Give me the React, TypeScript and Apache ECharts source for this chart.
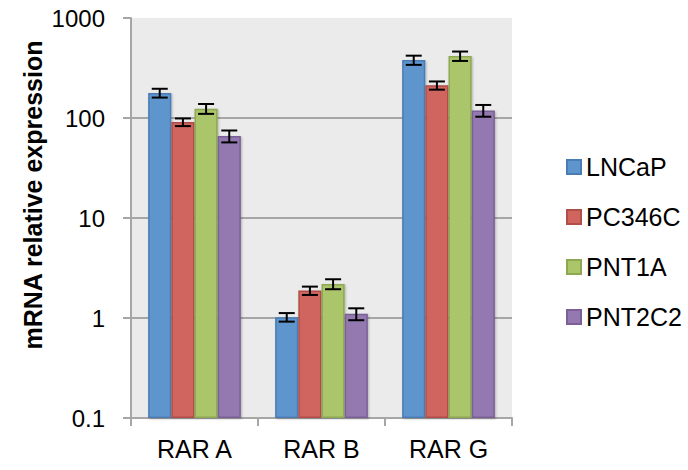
import React, { useEffect, useRef } from "react";
import * as echarts from "echarts";

// Relative mRNA expression of retinoic acid receptors per cell line
const categories = ["RAR A", "RAR B", "RAR G"];
const cellLines = ["LNCaP", "PC346C", "PNT1A", "PNT2C2"];

const lncap = [178, 1.02, 380];
const pc346c = [91, 1.88, 212];
const pnt1a = [124, 2.19, 417];
const pnt2c2 = [66, 1.1, 119];

const lncapErr = [18, 0.1, 40];
const pc346cErr = [8, 0.18, 20];
const pnt1aErr = [14, 0.25, 45];
const pnt2c2Err = [9, 0.15, 16];

const yTicks = [0.1, 1, 10, 100, 1000];

const values = [lncap, pc346c, pnt1a, pnt2c2];
const errors = [lncapErr, pc346cErr, pnt1aErr, pnt2c2Err];
const fills = ["#5E95CD", "#D0655F", "#ABC56B", "#9479B1"];
const borders = ["#4A7DB4", "#B04E49", "#8EA852", "#7A6096"];

const FONT = "'Liberation Sans', Arial, sans-serif";
const CATEGORY_GAP = 0.27;

export default function App() {
  const ref = useRef<HTMLDivElement>(null);

  useEffect(() => {
    if (!ref.current) return;
    document.body.style.margin = "0";
    const chart = echarts.init(ref.current, undefined, { renderer: "svg" });

    const barSeries = cellLines.map((name, i) => ({
      name,
      type: "bar",
      data: values[i],
      barGap: "0%",
      barCategoryGap: `${CATEGORY_GAP * 100}%`,
      itemStyle: {
        color: fills[i],
        borderColor: borders[i],
        borderWidth: 1.5,
        shadowColor: "rgba(0,0,0,0.25)",
        shadowBlur: 2,
        shadowOffsetX: 1,
        shadowOffsetY: 1,
      },
      z: 2,
    }));

    const errorSeries = cellLines.map((name, i) => ({
      name: name + " error",
      type: "custom",
      z: 5,
      silent: true,
      data: values[i].map((v, c) => [c, v - errors[i][c], v + errors[i][c]]),
      renderItem: (params: any, api: any) => {
        const c = api.value(0);
        const lo = api.coord([c, api.value(1)]);
        const hi = api.coord([c, api.value(2)]);
        const catWidth = api.size([1, 0])[0];
        const barW = (catWidth * (1 - CATEGORY_GAP)) / cellLines.length;
        const x = lo[0] + (i - (cellLines.length - 1) / 2) * barW;
        const half = 8;
        const style = { stroke: "#000", lineWidth: 2 };
        return {
          type: "group",
          children: [
            { type: "line", shape: { x1: x, y1: lo[1], x2: x, y2: hi[1] }, style },
            { type: "line", shape: { x1: x - half, y1: lo[1], x2: x + half, y2: lo[1] }, style },
            { type: "line", shape: { x1: x - half, y1: hi[1], x2: x + half, y2: hi[1] }, style },
          ],
        };
      },
    }));

    chart.setOption({
      animation: false,
      textStyle: { fontFamily: FONT },
      grid: {
        left: 131,
        right: 176,
        top: 18,
        bottom: 52,
        show: true,
        backgroundColor: "#EBEBEB",
        borderWidth: 0,
      },
      legend: {
        data: cellLines,
        orient: "vertical",
        left: 561,
        top: 147,
        itemWidth: 14,
        itemHeight: 14,
        itemGap: 20,
        icon: "rect",
        textStyle: {
          fontFamily: FONT,
          fontSize: 25,
          color: "#000",
          lineHeight: 30,
        },
      },
      xAxis: {
        type: "category",
        data: categories,
        axisLine: { lineStyle: { color: "#A6A6A6", width: 2 } },
        axisTick: { show: true, length: 8, lineStyle: { color: "#A6A6A6", width: 2 } },
        axisLabel: { fontFamily: FONT, fontSize: 25, color: "#000", margin: 18 },
      },
      yAxis: {
        type: "log",
        logBase: 10,
        min: yTicks[0],
        max: yTicks[yTicks.length - 1],
        startValue: yTicks[0],
        axisLine: { show: true, lineStyle: { color: "#A6A6A6", width: 2 } },
        axisTick: { show: true, length: 8, lineStyle: { color: "#A6A6A6", width: 2 } },
        axisLabel: {
          fontFamily: FONT,
          fontSize: 24,
          color: "#000",
          margin: 26,
          formatter: (v: number) => String(yTicks.find((t) => Math.abs(t - v) / t < 1e-6) ?? v),
        },
        splitLine: {
          show: true,
          lineStyle: { color: ["#A6A6A6", "#A6A6A6", "#A6A6A6", "#A6A6A6", "rgba(0,0,0,0)"], width: 2 },
        },
      },
      graphic: [
        {
          type: "text",
          x: 33,
          y: 195,
          rotation: Math.PI / 2,
          style: {
            text: "mRNA relative expression",
            fontFamily: FONT,
            fontSize: 25,
            fontWeight: "bold",
            fill: "#000",
            align: "center",
            verticalAlign: "middle",
          },
        },
      ],
      series: [...barSeries, ...errorSeries],
    });

    return () => chart.dispose();
  }, []);

  return <div ref={ref} style={{ width: 688, height: 470 }} />;
}
